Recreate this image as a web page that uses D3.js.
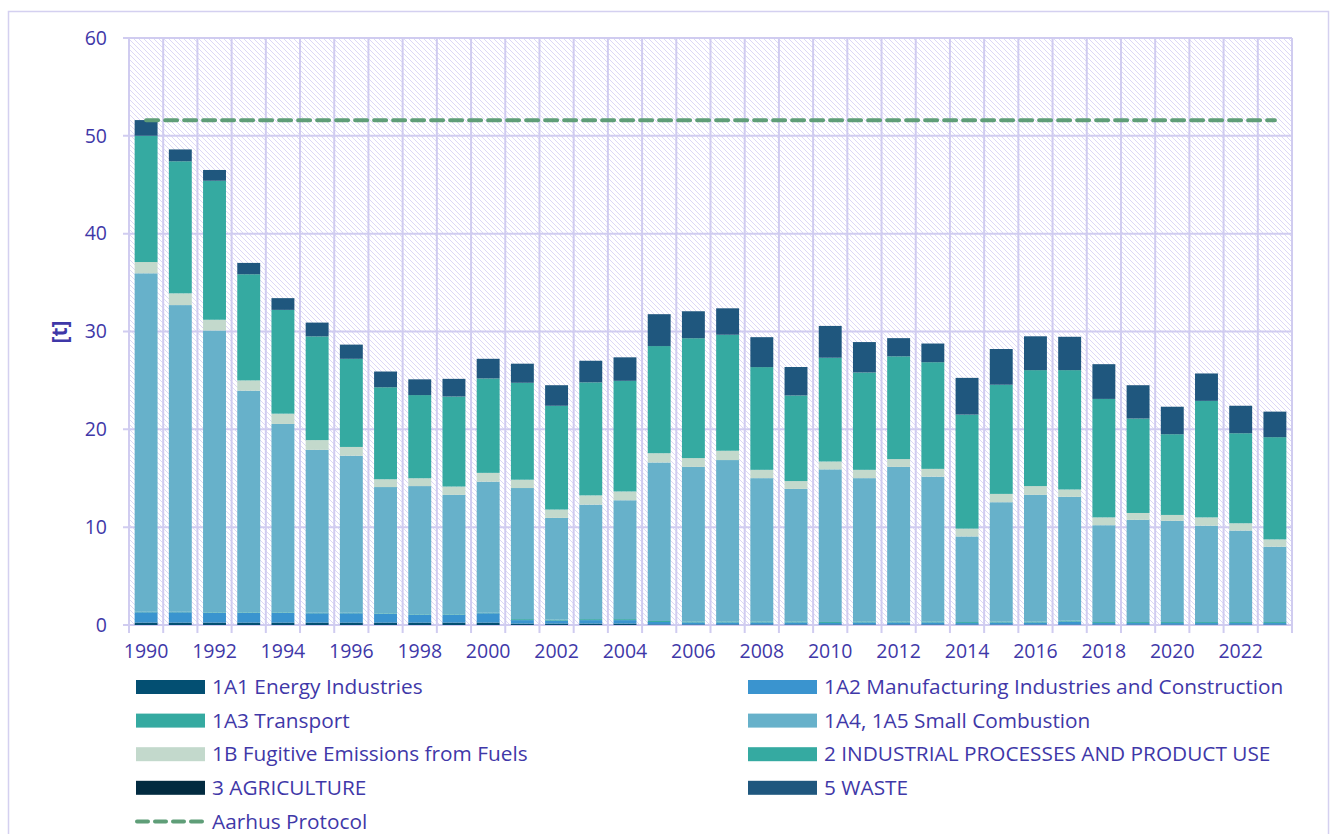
<!DOCTYPE html>
<html>
<head>
<meta charset="utf-8">
<script src="https://cdn.jsdelivr.net/npm/d3@7"></script>
<style>
  body { margin: 0; background: #fff; }
  text { font-family: "Open Sans", "Noto Sans", sans-serif; fill: #3f38a8; }
</style>
</head>
<body>
<svg id="chart" width="1331" height="834"></svg>
<script>
// years on the category axis
const years = d3.range(1990, 2024)
const yTicks = [0, 10, 20, 30, 40, 50, 60]

// emissions per sector [t]
const energy        = [0.25,0.25,0.25,0.25,0.25,0.25,0.25,0.25,0.25,0.25,0.25,0.15,0.15,0.15,0.15,0.06,0.06,0.06,0.06,0.06,0.06,0.06,0.06,0.06,0.05,0.05,0.05,0.05,0.05,0.05,0.05,0.05,0.05,0.05]
const manufacturing = [1.05,1.05,1.0,1.0,1.0,0.95,0.95,0.9,0.8,0.8,0.95,0.35,0.3,0.35,0.35,0.25,0.2,0.2,0.2,0.2,0.15,0.2,0.2,0.2,0.15,0.2,0.2,0.3,0.15,0.15,0.15,0.15,0.15,0.15]
const transport     = [0.05,0.05,0.05,0.05,0.05,0.05,0.05,0.05,0.05,0.05,0.05,0.1,0.1,0.1,0.1,0.1,0.1,0.1,0.1,0.1,0.1,0.1,0.1,0.1,0.1,0.1,0.1,0.1,0.1,0.1,0.1,0.1,0.1,0.1]
const smallComb     = [34.6,31.35,28.8,22.65,19.25,16.65,16.05,12.9,13.1,12.2,13.4,13.4,10.4,11.7,12.15,16.2,15.8,16.5,14.65,13.55,15.6,14.65,15.8,14.8,8.75,12.2,12.95,12.65,9.9,10.45,10.35,9.85,9.35,7.7]
const fugitive      = [1.15,1.2,1.1,1.05,1.05,1.0,0.9,0.8,0.8,0.85,0.9,0.85,0.85,0.95,0.9,0.95,0.9,0.95,0.85,0.8,0.8,0.85,0.8,0.8,0.8,0.85,0.9,0.75,0.8,0.7,0.6,0.85,0.75,0.75]
const industrial    = [12.9,13.5,14.2,10.85,10.6,10.6,9.0,9.4,8.5,9.2,9.65,9.9,10.6,11.55,11.3,10.95,12.25,11.85,10.5,8.75,10.6,9.95,10.5,10.9,11.65,11.15,11.85,12.2,12.1,9.65,8.25,11.9,9.2,10.45]
const agriculture   = [0.01,0.01,0.01,0.01,0.01,0.01,0.01,0.01,0.01,0.01,0.01,0.01,0.01,0.01,0.01,0.01,0.01,0.01,0.01,0.01,0.01,0.01,0.01,0.01,0.01,0.01,0.01,0.01,0.01,0.01,0.01,0.01,0.01,0.01]
const waste         = [1.6,1.2,1.1,1.15,1.2,1.4,1.45,1.6,1.6,1.8,2.0,1.95,2.1,2.2,2.4,3.25,2.75,2.7,3.05,2.9,3.25,3.1,1.85,1.9,3.75,3.65,3.45,3.4,3.55,3.4,2.8,2.8,2.8,2.6]
const aarhus = 51.6

const sectors = [
  {key: 'energy', name: '1A1 Energy Industries', color: '#034f72', values: energy},
  {key: 'manufacturing', name: '1A2 Manufacturing Industries and Construction', color: '#3a94cf', values: manufacturing},
  {key: 'transport', name: '1A3 Transport', color: '#35aaa1', values: transport},
  {key: 'smallComb', name: '1A4, 1A5 Small Combustion', color: '#67b1ca', values: smallComb},
  {key: 'fugitive', name: '1B Fugitive Emissions from Fuels', color: '#c3d9cc', values: fugitive},
  {key: 'industrial', name: '2 INDUSTRIAL PROCESSES AND PRODUCT USE', color: '#35aaa1', values: industrial},
  {key: 'agriculture', name: '3 AGRICULTURE', color: '#022b40', values: agriculture},
  {key: 'waste', name: '5 WASTE', color: '#1f577e', values: waste}
]

const table = years.map((y, i) => {
  const row = {year: y}
  sectors.forEach(s => row[s.key] = s.values[i])
  return row
})

const svg = d3.select('#chart')
const margin = {left: 129, top: 38, right: 1292, bottom: 625}

// outer frame
svg.append('rect')
  .attr('x', 8.5).attr('y', 11.5)
  .attr('width', 1320).attr('height', 840)
  .attr('fill', 'none')
  .attr('stroke', '#d4d0f0')
  .attr('stroke-width', 1.5)

const x = d3.scaleBand()
  .domain(years)
  .range([margin.left, margin.right])
  .paddingInner(0.33)
  .paddingOuter(0.165)

const y = d3.scaleLinear()
  .domain([0, 60])
  .range([margin.bottom, margin.top])

// hatch background
const defs = svg.append('defs')
const pat = defs.append('pattern')
  .attr('id', 'hatch')
  .attr('width', 5).attr('height', 5)
  .attr('patternUnits', 'userSpaceOnUse')
pat.append('path')
  .attr('d', 'M-1,-1 L6,6 M-1,4 L1,6 M4,-1 L6,1')
  .attr('stroke', '#dcd8f6')
  .attr('stroke-width', 1)

svg.append('rect')
  .attr('x', margin.left).attr('y', margin.top)
  .attr('width', margin.right - margin.left)
  .attr('height', margin.bottom - margin.top)
  .attr('fill', 'url(#hatch)')

// grid
const step = x.step()
const bounds = d3.range(years.length + 1).map(i => margin.left + i * step)
svg.append('g').selectAll('line')
  .data(bounds)
  .join('line')
  .attr('x1', d => d).attr('x2', d => d)
  .attr('y1', margin.top).attr('y2', margin.bottom + 8)
  .attr('stroke', '#d0ccf0')
  .attr('stroke-width', 2)

svg.append('g').selectAll('line')
  .data(yTicks)
  .join('line')
  .attr('x1', margin.left - 6).attr('x2', margin.right)
  .attr('y1', d => y(d)).attr('y2', d => y(d))
  .attr('stroke', '#d0ccf0')
  .attr('stroke-width', 2)

// bars
const stack = d3.stack().keys(sectors.map(s => s.key))
const layers = stack(table)

svg.append('g').selectAll('g')
  .data(layers)
  .join('g')
  .attr('fill', (d, i) => sectors[i].color)
  .selectAll('rect')
  .data(d => d)
  .join('rect')
  .attr('x', d => x(d.data.year))
  .attr('width', x.bandwidth())
  .attr('y', d => y(d[1]))
  .attr('height', d => y(d[0]) - y(d[1]))

// Aarhus protocol line
svg.append('line')
  .attr('x1', x(years[0]) + x.bandwidth() / 2)
  .attr('x2', x(years[years.length - 1]) + x.bandwidth() / 2)
  .attr('y1', y(aarhus)).attr('y2', y(aarhus))
  .attr('stroke', '#5f9e78')
  .attr('stroke-width', 4)
  .attr('stroke-dasharray', '12,7')
  .attr('stroke-linecap', 'round')

// axis labels
svg.append('g').selectAll('text')
  .data(yTicks)
  .join('text')
  .attr('x', 107)
  .attr('y', d => y(d))
  .attr('dy', '0.35em')
  .attr('text-anchor', 'end')
  .style('font-size', '19.5px')
  .text(d => d)

svg.append('g').selectAll('text')
  .data(years.filter(d => d % 2 === 0))
  .join('text')
  .attr('x', d => x(d) + x.bandwidth() / 2)
  .attr('y', 658)
  .attr('text-anchor', 'middle')
  .style('font-size', '19.5px')
  .text(d => d)

svg.append('text')
  .attr('transform', 'translate(67,332) rotate(-90)')
  .attr('text-anchor', 'middle')
  .style('font-size', '21px')
  .style('font-weight', 'bold')
  .text('[t]')

// legend
const legendItems = sectors.map(s => ({name: s.name, color: s.color, dashed: false}))
legendItems.push({name: 'Aarhus Protocol', color: '#5f9e78', dashed: true})

const legend = svg.append('g').selectAll('g')
  .data(legendItems)
  .join('g')
  .attr('transform', (d, i) => `translate(${i % 2 ? 748 : 136},${687 + Math.floor(i / 2) * 33.6})`)

legend.filter(d => !d.dashed).append('rect')
  .attr('x', 0).attr('y', -7)
  .attr('width', 69).attr('height', 14)
  .attr('fill', d => d.color)

legend.filter(d => d.dashed).append('line')
  .attr('x1', 1).attr('x2', 69)
  .attr('stroke', d => d.color)
  .attr('stroke-width', 4)
  .attr('stroke-dasharray', '11,7')
  .attr('stroke-linecap', 'round')

legend.append('text')
  .attr('x', 76)
  .attr('dy', '0.35em')
  .style('font-size', '20.8px')
  .text(d => d.name)
</script>
</body>
</html>
